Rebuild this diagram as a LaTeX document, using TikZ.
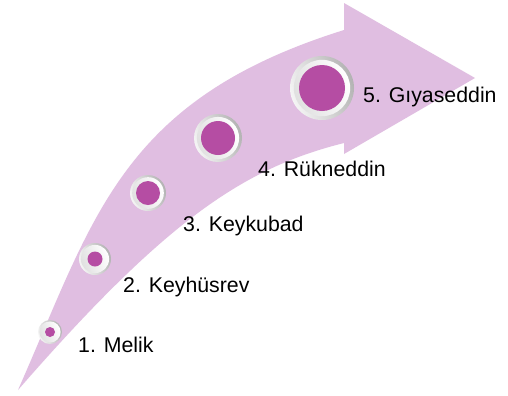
\documentclass[tikz,border=0pt]{standalone}
\usepackage{fontspec}
\setmainfont{Liberation Sans}
\definecolor{arrowpink}{RGB}{224,190,225}
\definecolor{dotmag}{RGB}{181,77,163}
\newcommand\RingDot[5]{%
  \node[circle, inner sep=0pt, minimum size=2*#4 bp, left color=black!30, right color=black!4, shading angle=-70] (#1) at (#2,#3) {};
  \node[circle, inner sep=0pt, minimum size=1.76*#4 bp, left color=white, right color=black!12, shading angle=-70] (#1m) at (#1.center) {};
  \node[circle, inner sep=0pt, minimum size=2*#5 bp, fill=dotmag] (#1d) at (#1.center) {};
}
\begin{document}
\begin{tikzpicture}[x=1bp,y=-1bp,
  lbl/.style={anchor=base west, inner sep=0pt, font=\fontsize{21.3bp}{25bp}\selectfont, text=black}]
\useasboundingbox (0,0) rectangle (508,395);
\fill[white] (0,0) rectangle (508,395);
% curved arrow
\coordinate (tail) at (18,390);
\coordinate (ujoin) at (344,30);
\coordinate (htop) at (344,3);
\coordinate (htip) at (475,78);
\coordinate (hbot) at (344,154);
\coordinate (ljoin) at (344,143);
\fill[arrowpink]
  (tail) .. controls (94,218) and (120,100) .. (ujoin)
  -- (htop) -- (htip) -- (hbot) -- (ljoin)
  .. controls (244,168) and (166,220) .. (tail) -- cycle;
% dots
\RingDot{c1}{50}{332}{12}{5}
\RingDot{c2}{95}{259}{16}{7.5}
\RingDot{c3}{148}{193}{18}{12}
\RingDot{c4}{218}{138}{24}{17}
\RingDot{c5}{322}{88}{32}{23}
% labels
\node[lbl] (l1) at (78,352) {1. Melik};
\node[lbl] (l2) at (123,292) {2. Keyhüsrev};
\node[lbl] (l3) at (183,231) {3. Keykubad};
\node[lbl] (l4) at (258,176) {4. Rükneddin};
\node[lbl] (l5) at (363,102) {5. Gıyaseddin};
\end{tikzpicture}
\end{document}
